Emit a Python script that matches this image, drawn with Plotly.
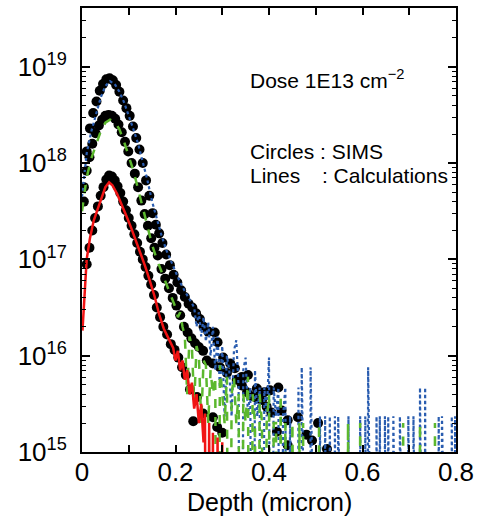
import plotly.graph_objects as go

# ---------------- data (log10 of concentration, cm^-3) ----------------
# SIMS profiles (black circles)
sims_a_depth = [0.004, 0.010, 0.017, 0.024, 0.031, 0.038, 0.045, 0.052, 0.059, 0.066,
                0.073, 0.080, 0.088, 0.095, 0.102, 0.109, 0.116, 0.123, 0.130, 0.137,
                0.144, 0.151, 0.158, 0.165, 0.172, 0.180, 0.188, 0.196, 0.204, 0.212,
                0.220, 0.228, 0.236, 0.244, 0.252, 0.260, 0.270, 0.284, 0.290, 0.302,
                0.317, 0.327, 0.342, 0.355, 0.374, 0.390, 0.402, 0.420, 0.427, 0.440,
                0.462, 0.480, 0.492, 0.505, 0.524]
sims_a_log = [17.75, 18.12, 18.36, 18.52, 18.64, 18.75, 18.82, 18.87, 18.88, 18.86,
              18.81, 18.74, 18.65, 18.57, 18.49, 18.38, 18.26, 18.14, 18.00, 17.82,
              17.66, 17.48, 17.36, 17.27, 17.17, 17.05, 16.94, 16.84, 16.76, 16.68,
              16.61, 16.54, 16.50, 16.44, 16.38, 16.30, 16.25, 16.24, 16.14, 15.98,
              15.92, 15.87, 15.78, 15.80, 15.66, 15.62, 15.64, 15.67, 15.43, 15.33,
              15.36, 15.18, 15.12, 15.30, 15.03]

sims_b_depth = [0.004, 0.010, 0.016, 0.022, 0.029, 0.036, 0.043, 0.050, 0.057, 0.064,
                0.071, 0.078, 0.085, 0.092, 0.099, 0.106, 0.113, 0.120, 0.127, 0.134,
                0.141, 0.148, 0.155, 0.162, 0.170, 0.178, 0.186, 0.194, 0.202, 0.210,
                0.218, 0.226, 0.234, 0.242, 0.250, 0.259, 0.267, 0.280, 0.295, 0.310,
                0.331, 0.342, 0.353, 0.365, 0.374, 0.385, 0.395, 0.405, 0.417, 0.440]
sims_b_log = [17.60, 17.92, 18.06, 18.20, 18.31, 18.39, 18.45, 18.49, 18.50, 18.49,
              18.46, 18.40, 18.32, 18.22, 18.12, 18.00, 17.89, 17.75, 17.61, 17.47,
              17.35, 17.22, 17.12, 17.04, 16.90, 16.80, 16.70, 16.60, 16.52, 16.42,
              16.30, 16.24, 16.18, 16.13, 16.09, 16.05, 15.95, 15.92, 15.88, 15.82,
              15.75, 15.69, 15.62, 15.58, 15.56, 15.54, 15.47, 15.41, 15.21, 15.07]

sims_c_depth = [0.010, 0.016, 0.022, 0.028, 0.034, 0.040, 0.046, 0.052, 0.058, 0.064,
                0.070, 0.076, 0.082, 0.088, 0.094, 0.100, 0.106, 0.112, 0.118, 0.124,
                0.130, 0.136, 0.142, 0.148, 0.154, 0.160, 0.167, 0.174, 0.182,
                0.190, 0.198, 0.206, 0.214, 0.222, 0.231, 0.238, 0.246, 0.259, 0.280,
                0.289, 0.300]
sims_c_log = [16.95, 17.12, 17.30, 17.43, 17.55, 17.66, 17.75, 17.83, 17.87, 17.86,
              17.82, 17.76, 17.69, 17.60, 17.51, 17.43, 17.35, 17.26, 17.17, 17.08,
              17.00, 16.92, 16.83, 16.74, 16.63, 16.50, 16.40, 16.30, 16.22,
              16.12, 16.06, 15.98, 15.88, 15.80, 15.65, 15.32, 15.57, 15.40, 15.36,
              15.26, 15.20]

# Calculations (0 = no counts in that depth bin)
red_depth = [0.001, 0.005, 0.010, 0.017, 0.025, 0.032, 0.040, 0.045, 0.050, 0.058,
             0.065, 0.075, 0.085, 0.095, 0.105, 0.115, 0.125, 0.135, 0.145, 0.155,
             0.165, 0.175, 0.185, 0.195, 0.200, 0.205, 0.210, 0.215, 0.220, 0.225,
             0.230, 0.235, 0.240, 0.245, 0.250, 0.255, 0.260, 0.263, 0.268, 0.272,
             0.277, 0.280, 0.285, 0.290, 0.295, 0.300, 0.305]
red_log = [16.26, 16.60, 17.00, 17.22, 17.40, 17.50, 17.62, 17.68, 17.75, 17.80,
           17.77, 17.68, 17.57, 17.45, 17.33, 17.20, 17.07, 16.93, 16.78, 16.62,
           16.43, 16.28, 16.18, 16.08, 15.95, 16.05, 15.85, 15.95, 15.75, 15.85,
           15.60, 15.72, 15.45, 15.60, 15.30, 15.50, 15.10, 15.40, 0, 15.30,
           0, 15.20, 0, 15.15, 0, 15.10, 0]

green_depth = [0.000, 0.005, 0.010, 0.020, 0.030, 0.040, 0.050, 0.060, 0.070, 0.080,
               0.090, 0.100, 0.110, 0.120, 0.130, 0.140, 0.150, 0.160, 0.170, 0.180,
               0.190, 0.200, 0.205, 0.210, 0.215, 0.220, 0.225, 0.230, 0.235, 0.240,
               0.245, 0.250, 0.255, 0.260, 0.265, 0.270, 0.275, 0.280, 0.285, 0.290,
               0.295, 0.300, 0.305, 0.310, 0.315, 0.320, 0.325, 0.330, 0.335, 0.340,
               0.345, 0.350, 0.355, 0.360, 0.365, 0.370, 0.375, 0.380, 0.385, 0.390,
               0.395, 0.400, 0.405, 0.410, 0.415, 0.420, 0.425, 0.430, 0.435, 0.440,
               0.445, 0.450, 0.455, 0.460, 0.465, 0.470]
green_log = [17.50, 17.68, 17.85, 18.05, 18.20, 18.33, 18.42, 18.45, 18.43, 18.35,
             18.22, 18.08, 17.92, 17.73, 17.53, 17.33, 17.15, 17.00, 16.87, 16.74,
             16.62, 16.50, 16.40, 16.45, 16.30, 16.20, 15.60, 16.20, 16.10, 15.50,
             16.10, 16.00, 15.30, 15.95, 15.90, 15.30, 15.85, 15.60, 15.78, 0,
             15.90, 15.60, 15.30, 15.78, 0, 15.60, 15.78, 15.30, 15.60, 0,
             15.60, 15.30, 15.78, 0, 15.60, 15.30, 0, 15.60, 15.30, 0,
             15.30, 15.60, 0, 15.30, 15.30, 0, 15.60, 0, 15.30, 0,
             0, 15.30, 0, 0, 15.30, 0]
green_spike_depth = [0.473, 0.507, 0.569, 0.595, 0.687, 0.723, 0.755]
green_spike_log = [15.30, 15.30, 15.30, 15.30, 15.30, 15.30, 15.30]

blue_depth = [0.000, 0.005, 0.010, 0.020, 0.030, 0.040, 0.050, 0.060, 0.070, 0.080,
              0.090, 0.100, 0.110, 0.120, 0.130, 0.140, 0.150, 0.160, 0.170, 0.180,
              0.190, 0.200, 0.210, 0.220, 0.230, 0.235, 0.240, 0.245, 0.250, 0.255,
              0.260, 0.265, 0.270, 0.275, 0.280, 0.285, 0.290, 0.295, 0.300, 0.305,
              0.310, 0.315, 0.320, 0.325, 0.330, 0.335, 0.340, 0.345, 0.350, 0.355,
              0.360, 0.365, 0.370, 0.375, 0.380, 0.385, 0.390, 0.395, 0.400, 0.405,
              0.410, 0.415, 0.420, 0.425, 0.430, 0.435, 0.440, 0.445, 0.450]
blue_log = [17.65, 17.90, 18.10, 18.33, 18.52, 18.68, 18.80, 18.85, 18.82, 18.74,
            18.63, 18.50, 18.35, 18.20, 18.02, 17.82, 17.60, 17.42, 17.25, 17.10,
            16.98, 16.86, 16.76, 16.67, 16.58, 16.55, 16.50, 16.30, 16.45, 16.20,
            16.40, 16.15, 16.35, 16.00, 16.30, 15.85, 16.20, 15.67, 16.10, 15.37,
            16.00, 15.85, 15.37, 16.05, 16.16, 15.67, 0, 15.85, 15.98, 15.37,
            15.67, 0, 15.85, 15.37, 15.67, 0, 15.67, 15.37, 15.98, 0,
            15.67, 15.37, 15.67, 0, 15.37, 15.67, 0, 15.37, 0]
blue_spike_depth = [0.463, 0.470, 0.489, 0.509, 0.520, 0.530, 0.541, 0.548, 0.570, 0.595,
                    0.606, 0.612, 0.630, 0.637, 0.648, 0.655, 0.666, 0.680, 0.698, 0.709,
                    0.723, 0.734, 0.763, 0.770, 0.791, 0.798]
blue_spike_log = [15.67, 15.88, 15.88, 15.37, 15.37, 15.37, 15.37, 15.37, 15.37, 15.37,
                  15.37, 15.88, 15.37, 15.37, 15.37, 15.37, 15.37, 15.37, 15.37, 15.37,
                  15.67, 15.67, 15.37, 15.37, 15.37, 15.37]

y_tick_vals = [1e15, 1e16, 1e17, 1e18, 1e19]
y_tick_text = ["10<sup>15</sup>", "10<sup>16</sup>", "10<sup>17</sup>",
               "10<sup>18</sup>", "10<sup>19</sup>"]
x_tick_vals = [0, 0.2, 0.4, 0.6, 0.8]
x_tick_text = ["0", "0.2", "0.4", "0.6", "0.8"]
x_title = "Depth (micron)"

# ---------------- helpers ----------------
NO_COUNT = 1e10  # empty bin -> drawn far below the axis floor


def conc(logs):
    return [10 ** v if v > 0 else NO_COUNT for v in logs]


def with_spikes(depth, logs, sdepth, slogs, half=0.002):
    xs, ys = list(depth), conc(logs)
    for d, v in zip(sdepth, slogs):
        xs += [d - half, d, d + half]
        ys += [NO_COUNT, 10 ** v, NO_COUNT]
    return xs, ys


SANS = "Liberation Sans, Arial, Helvetica, sans-serif"

fig = go.Figure()

for dx, lg in [(sims_a_depth, sims_a_log), (sims_b_depth, sims_b_log), (sims_c_depth, sims_c_log)]:
    fig.add_trace(go.Scatter(x=dx, y=conc(lg), mode="markers",
                             marker=dict(color="black", size=10, line=dict(width=0)),
                             showlegend=False, cliponaxis=True))

bx, by = with_spikes(blue_depth, blue_log, blue_spike_depth, blue_spike_log)
fig.add_trace(go.Scatter(x=bx, y=by, mode="lines",
                         line=dict(color="#2a5db0", width=2.2, dash="dot"), showlegend=False))
gx, gy = with_spikes(green_depth, green_log, green_spike_depth, green_spike_log)
fig.add_trace(go.Scatter(x=gx, y=gy, mode="lines",
                         line=dict(color="#5cb82e", width=2.5, dash="dash"), showlegend=False))
fig.add_trace(go.Scatter(x=red_depth, y=conc(red_log), mode="lines",
                         line=dict(color="#f01414", width=2.5), showlegend=False))

axis_common = dict(showline=True, linecolor="black", linewidth=2, mirror="allticks",
                   ticks="inside", tickcolor="black", tickwidth=1.5, showgrid=False,
                   zeroline=False, automargin=False)

fig.update_xaxes(range=[0, 0.8], tickvals=x_tick_vals, ticktext=x_tick_text,
                 ticklen=7, tickfont=dict(family=SANS, size=26, color="black"),
                 minor=dict(ticks="inside", dtick=0.1, ticklen=7, tickwidth=1.5,
                            tickcolor="black", showgrid=False),
                 ticklabelstandoff=-4,
                 **axis_common)
fig.update_yaxes(type="log", range=[15, 19.61], tickvals=y_tick_vals, ticktext=y_tick_text,
                 ticklen=8, tickfont=dict(family=SANS, size=26, color="black"),
                 minor=dict(ticks="inside", ticklen=4, tickwidth=1, tickcolor="black",
                            dtick="D1", showgrid=False),
                 ticklabelstandoff=8,
                 **axis_common)

fig.add_annotation(xref="paper", yref="paper", x=0.5, y=-0.113, xanchor="center",
                   yanchor="middle", text=x_title, showarrow=False,
                   font=dict(family=SANS, size=25, color="black"))

ann_font = dict(family=SANS, size=21, color="black")
fig.add_annotation(xref="paper", yref="paper", x=0.444, y=0.84, xanchor="left", yanchor="middle",
                   text="Dose 1E13 cm<sup>\u22122</sup>", showarrow=False, font=ann_font)
fig.add_annotation(xref="paper", yref="paper", x=0.444, y=0.676, xanchor="left", yanchor="middle",
                   text="Circles : SIMS", showarrow=False, font=ann_font)
fig.add_annotation(xref="paper", yref="paper", x=0.444, y=0.622, xanchor="left", yanchor="middle",
                   text="Lines\u00a0\u00a0\u00a0\u2009: Calculations", showarrow=False, font=ann_font)

fig.update_layout(width=494, height=525, margin=dict(l=82, r=38, t=8, b=73),
                  plot_bgcolor="white", paper_bgcolor="white", showlegend=False)

fig.write_html("out.html")
